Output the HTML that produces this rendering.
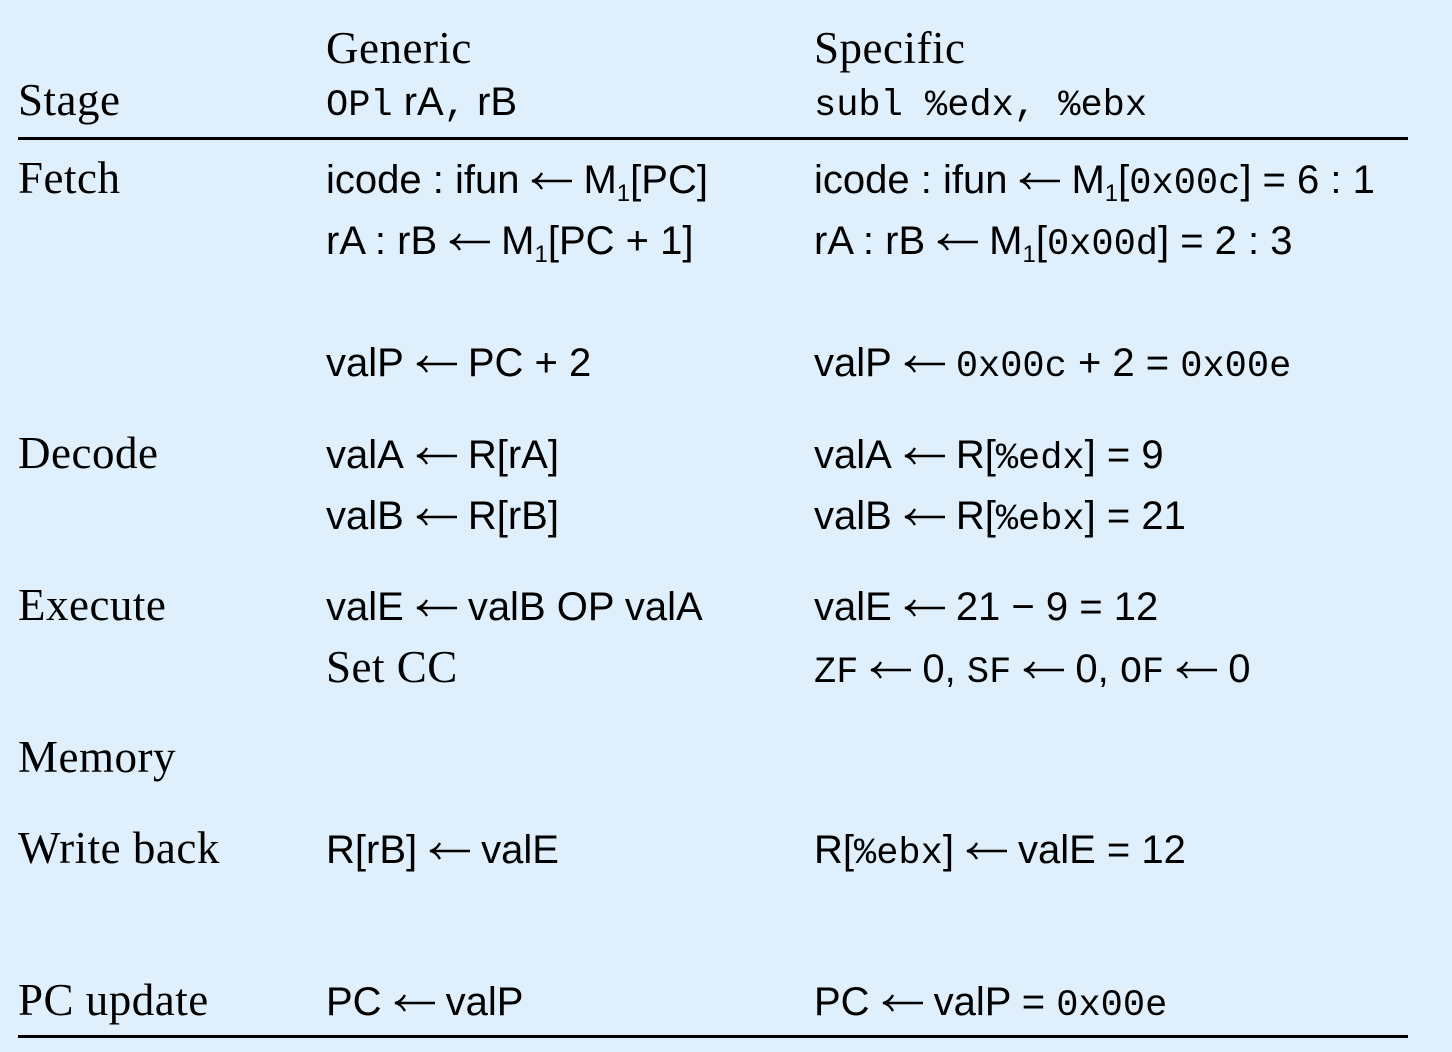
<!DOCTYPE html>
<html><head><meta charset="utf-8"><style>
html,body{margin:0;padding:0}
body{width:1452px;height:1052px;background:#dff0fc;position:relative;overflow:hidden;color:#000}
.t{position:absolute;white-space:nowrap;line-height:1;font-size:40px;font-family:"Liberation Sans",sans-serif}
.s{font-family:"Liberation Serif",serif;font-size:45px;letter-spacing:0.5px}
.m{font-family:"Liberation Mono",monospace;font-size:37px}
sub{font-size:24px;vertical-align:-8px;line-height:0}
.rule{position:absolute;left:18px;width:1390px;height:3px;background:#000}
svg.a{display:inline-block;width:44px;height:20px;vertical-align:2px;margin:0 10px}
</style></head><body>
<svg width="0" height="0" style="position:absolute"><defs><symbol id="ar" viewBox="0 0 44 20"><path d="M4 10H43M13 2Q9 9 3 10Q9 11 13 18" fill="none" stroke="#000" stroke-width="2.4"/></symbol></defs></svg>
<div class="rule" style="top:137px"></div>
<div class="rule" style="top:1035px"></div>

<div class="t s" style="left:326px;top:26px">Generic</div>
<div class="t s" style="left:814px;top:26px">Specific</div>
<div class="t s" style="left:18px;top:78px">Stage</div>
<div class="t" style="left:326px;top:82px"><span class="m">OPl</span> rA<span class="m">,</span> rB</div>
<div class="t" style="left:814px;top:82px"><span class="m">subl %edx, %ebx</span></div>

<div class="t s" style="left:18px;top:156px">Fetch</div>
<div class="t" style="left:326px;top:160px">icode : ifun<svg class="a"><use href="#ar"/></svg>M<sub>1</sub>[PC]</div>
<div class="t" style="left:814px;top:160px">icode : ifun<svg class="a"><use href="#ar"/></svg>M<sub>1</sub>[<span class="m">0x00c</span>] = 6 : 1</div>
<div class="t" style="left:326px;top:221px">rA : rB<svg class="a"><use href="#ar"/></svg>M<sub>1</sub>[PC + 1]</div>
<div class="t" style="left:814px;top:221px">rA : rB<svg class="a"><use href="#ar"/></svg>M<sub>1</sub>[<span class="m">0x00d</span>] = 2 : 3</div>
<div class="t" style="left:326px;top:343px">valP<svg class="a"><use href="#ar"/></svg>PC + 2</div>
<div class="t" style="left:814px;top:343px">valP<svg class="a"><use href="#ar"/></svg><span class="m">0x00c</span> + 2 = <span class="m">0x00e</span></div>

<div class="t s" style="left:18px;top:431px">Decode</div>
<div class="t" style="left:326px;top:435px">valA<svg class="a"><use href="#ar"/></svg>R[rA]</div>
<div class="t" style="left:814px;top:435px">valA<svg class="a"><use href="#ar"/></svg>R[<span class="m">%edx</span>] = 9</div>
<div class="t" style="left:326px;top:496px">valB<svg class="a"><use href="#ar"/></svg>R[rB]</div>
<div class="t" style="left:814px;top:496px">valB<svg class="a"><use href="#ar"/></svg>R[<span class="m">%ebx</span>] = 21</div>

<div class="t s" style="left:18px;top:583px">Execute</div>
<div class="t" style="left:326px;top:587px">valE<svg class="a"><use href="#ar"/></svg>valB OP valA</div>
<div class="t" style="left:814px;top:587px">valE<svg class="a"><use href="#ar"/></svg>21 − 9 = 12</div>
<div class="t s" style="left:326px;top:645px">Set CC</div>
<div class="t" style="left:814px;top:649px"><span class="m">ZF</span><svg class="a"><use href="#ar"/></svg>0, <span class="m">SF</span><svg class="a"><use href="#ar"/></svg>0, <span class="m">OF</span><svg class="a"><use href="#ar"/></svg>0</div>

<div class="t s" style="left:18px;top:735px">Memory</div>

<div class="t s" style="left:18px;top:826px">Write back</div>
<div class="t" style="left:326px;top:830px">R[rB]<svg class="a"><use href="#ar"/></svg>valE</div>
<div class="t" style="left:814px;top:830px">R[<span class="m">%ebx</span>]<svg class="a"><use href="#ar"/></svg>valE = 12</div>

<div class="t s" style="left:18px;top:978px">PC update</div>
<div class="t" style="left:326px;top:982px">PC<svg class="a"><use href="#ar"/></svg>valP</div>
<div class="t" style="left:814px;top:982px">PC<svg class="a"><use href="#ar"/></svg>valP = <span class="m">0x00e</span></div>
</body></html>
